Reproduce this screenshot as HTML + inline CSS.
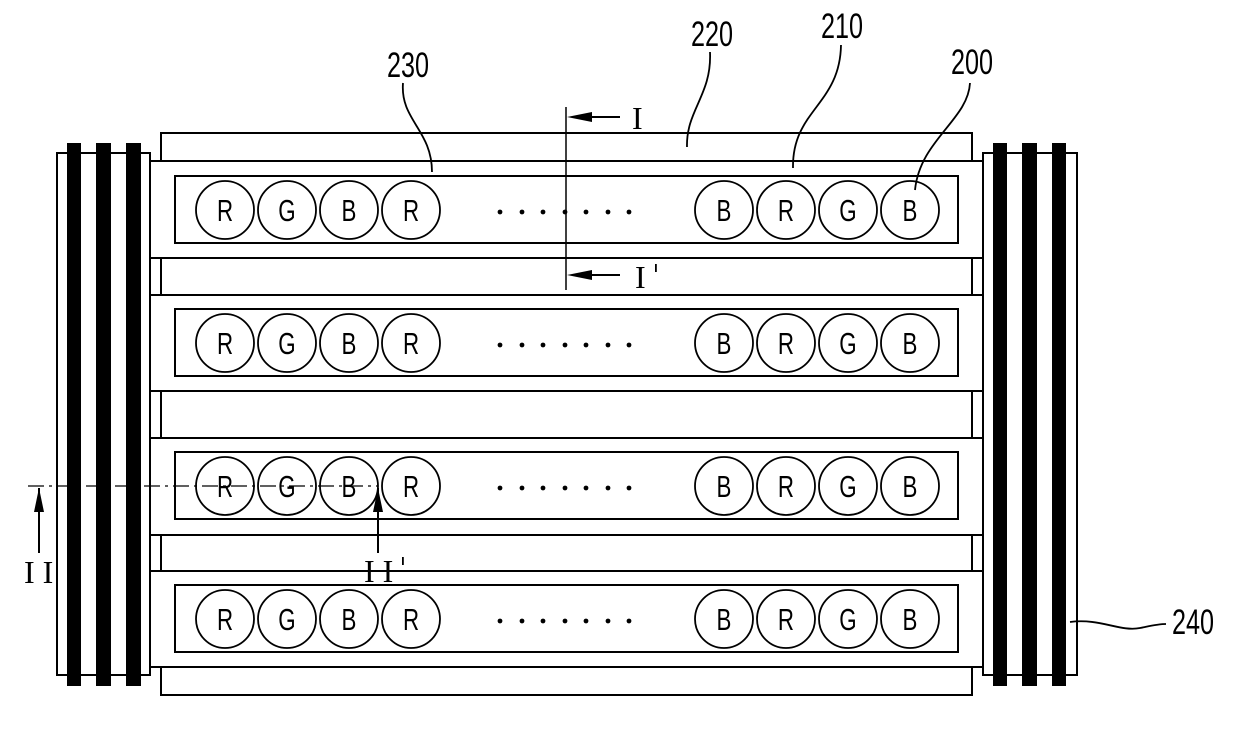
<!DOCTYPE html>
<html><head><meta charset="utf-8"><style>
html,body{margin:0;padding:0;background:#fff;}
svg{display:block;}
text{font-family:"Liberation Sans",sans-serif;fill:#000;}
.s{font-family:"Liberation Serif",serif;}
</style></head><body>
<svg width="1240" height="739" viewBox="0 0 1240 739" xmlns="http://www.w3.org/2000/svg">
<defs>
<g id="row">
  <rect x="175" y="-34" width="783" height="67" fill="#fff" stroke="#000" stroke-width="2"/>
  <g fill="none" stroke="#000" stroke-width="1.8">
    <circle cx="225" cy="0" r="29"/><circle cx="287" cy="0" r="29"/><circle cx="349" cy="0" r="29"/><circle cx="411" cy="0" r="29"/>
    <circle cx="724" cy="0" r="29"/><circle cx="786" cy="0" r="29"/><circle cx="848" cy="0" r="29"/><circle cx="910" cy="0" r="29"/>
  </g>
  <g font-size="31" text-anchor="middle">
    <text x="225" y="11" transform="translate(225,0) scale(0.72,1) translate(-225,0)">R</text>
    <text x="287" y="11" transform="translate(287,0) scale(0.72,1) translate(-287,0)">G</text>
    <text x="349" y="11" transform="translate(349,0) scale(0.72,1) translate(-349,0)">B</text>
    <text x="411" y="11" transform="translate(411,0) scale(0.72,1) translate(-411,0)">R</text>
    <text x="724" y="11" transform="translate(724,0) scale(0.72,1) translate(-724,0)">B</text>
    <text x="786" y="11" transform="translate(786,0) scale(0.72,1) translate(-786,0)">R</text>
    <text x="848" y="11" transform="translate(848,0) scale(0.72,1) translate(-848,0)">G</text>
    <text x="910" y="11" transform="translate(910,0) scale(0.72,1) translate(-910,0)">B</text>
  </g>
  <g fill="#000">
    <circle cx="500" cy="2" r="2.4"/><circle cx="522" cy="2" r="2.4"/><circle cx="543" cy="2" r="2.4"/><circle cx="565" cy="2" r="2.4"/><circle cx="586" cy="2" r="2.4"/><circle cx="608" cy="2" r="2.4"/><circle cx="629" cy="2" r="2.4"/>
  </g>
</g>
</defs>

<rect x="161" y="133" width="811" height="562" fill="#fff" stroke="#000" stroke-width="2"/>

<rect x="57" y="153" width="93" height="522" fill="#fff" stroke="#000" stroke-width="2"/>
<rect x="983" y="153" width="94" height="522" fill="#fff" stroke="#000" stroke-width="2"/>
<g fill="#000">
  <rect x="67" y="143" width="14" height="543"/><rect x="96" y="143" width="15" height="543"/><rect x="126" y="143" width="15" height="543"/>
  <rect x="993" y="143" width="14" height="543"/><rect x="1022" y="143" width="15" height="543"/><rect x="1052" y="143" width="14" height="543"/>
</g>

<g fill="#fff" stroke="#000" stroke-width="2">
  <rect x="150" y="161" width="833" height="97"/>
  <rect x="150" y="295" width="833" height="96"/>
  <rect x="150" y="438" width="833" height="97"/>
  <rect x="150" y="571" width="833" height="96"/>
</g>

<use href="#row" transform="translate(0,210)"/>
<use href="#row" transform="translate(0,343)"/>
<use href="#row" transform="translate(0,486)"/>
<use href="#row" transform="translate(0,619)"/>

<line x1="566" y1="107" x2="566" y2="290" stroke="#000" stroke-width="1.5"/>
<line x1="575" y1="117" x2="620" y2="117" stroke="#000" stroke-width="2"/>
<polygon points="567,117 592,112 592,122" fill="#000"/>
<line x1="575" y1="275" x2="620" y2="275" stroke="#000" stroke-width="2"/>
<polygon points="567,275 592,270 592,280" fill="#000"/>
<text class="s" x="632" y="129" font-size="32">I</text>
<text class="s" x="635" y="288" font-size="32">I</text>
<rect x="655" y="264" width="1.8" height="8" fill="#000"/>

<line x1="28" y1="486" x2="378" y2="486" stroke="#000" stroke-width="1.3" stroke-dasharray="16,5,3,5"/>
<line x1="39" y1="488" x2="39" y2="553" stroke="#000" stroke-width="2"/>
<polygon points="39,488 34,512 44,512" fill="#000"/>
<line x1="378" y1="488" x2="378" y2="553" stroke="#000" stroke-width="2"/>
<polygon points="378,488 373,512 383,512" fill="#000"/>
<text class="s" x="24" y="583" font-size="32" letter-spacing="8">II</text>
<text class="s" x="364" y="582" font-size="32" letter-spacing="8">II</text>
<rect x="402" y="557" width="1.8" height="8" fill="#000"/>

<g font-size="35">
  <text x="408" y="77" text-anchor="middle" transform="translate(408,0) scale(0.72,1) translate(-408,0)">230</text>
  <text x="712" y="46" text-anchor="middle" transform="translate(712,0) scale(0.72,1) translate(-712,0)">220</text>
  <text x="842" y="38" text-anchor="middle" transform="translate(842,0) scale(0.72,1) translate(-842,0)">210</text>
  <text x="972" y="74" text-anchor="middle" transform="translate(972,0) scale(0.72,1) translate(-972,0)">200</text>
  <text x="1193" y="634" text-anchor="middle" transform="translate(1193,0) scale(0.72,1) translate(-1193,0)">240</text>
</g>
<g fill="none" stroke="#000" stroke-width="1.8">
  <path d="M403,83 C400,120 432,130 432,172"/>
  <path d="M710,52 C712,95 686,110 687,147"/>
  <path d="M841,45 C840,105 792,110 793,168"/>
  <path d="M970,83 C968,120 920,140 915,190"/>
  <path d="M1070,622 C1100,618 1120,632 1140,628 C1150,626 1158,624 1166,624"/>
</g>
</svg>
</body></html>
